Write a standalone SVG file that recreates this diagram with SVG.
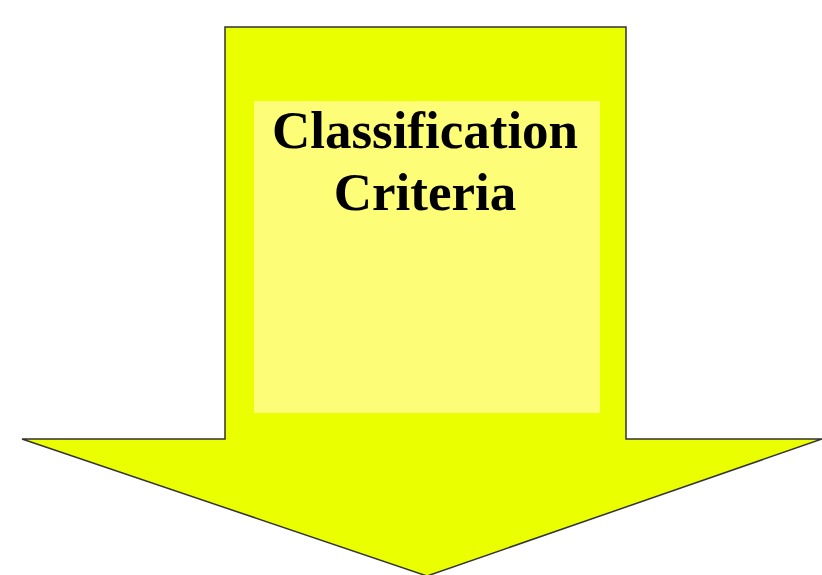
<svg xmlns="http://www.w3.org/2000/svg" width="822" height="575" viewBox="0 0 822 575">
<style>
.arrow{fill:#EAFF00;stroke:#333;stroke-width:1.5;stroke-linejoin:miter}
.panel{fill:#FDFD77}
.label{font-family:"Liberation Serif","Times New Roman",serif;font-weight:bold;font-size:53px;fill:#000;text-anchor:middle}
</style>
<rect width="822" height="575" fill="#fff"/>
<g id="arrow">
<polygon class="arrow" points="225,27 626,27 626,439 822,439 427,576 22,439 225,439"/>
<rect class="panel" x="254" y="101" width="346" height="312"/>
</g>
<g id="label">
<text class="label" x="425" y="148">Classification</text>
<text class="label" x="425" y="210">Criteria</text>
</g>
<g id="connectors"/>
</svg>
